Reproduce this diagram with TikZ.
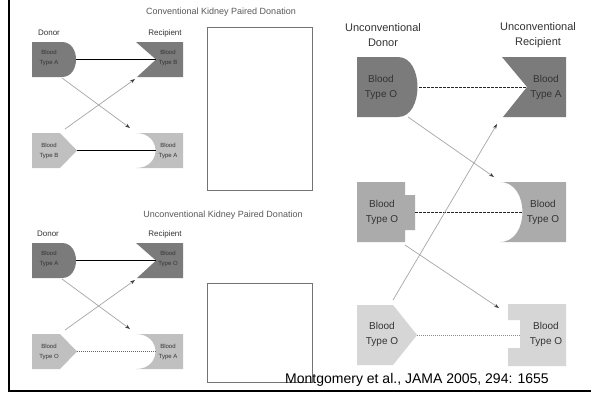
\documentclass[tikz,border=0pt]{standalone}
\usepackage{fontspec}
\setmainfont{Liberation Sans}
\usetikzlibrary{arrows.meta}
\definecolor{shdark}{HTML}{7B7B7B}
\definecolor{shlight}{HTML}{C0C0C0}
\definecolor{shmid}{HTML}{ABABAB}
\definecolor{shpale}{HTML}{D6D6D6}
\definecolor{txtdark}{HTML}{333333}
\definecolor{arrowgray}{HTML}{A6A6A6}
\begin{document}
\begin{tikzpicture}[x=1pt,y=-1pt,
 smalltxt/.style={font=\fontsize{6}{9.5}\selectfont, align=center, text=txtdark, inner sep=0pt},
 bigtxt/.style={font=\fontsize{10}{15}\selectfont, align=center, text=txtdark, inner sep=0pt},
 headtxt/.style={font=\fontsize{11}{15}\selectfont, align=center, text=txtdark, inner sep=0pt},
 roletxt/.style={font=\fontsize{8}{9}\selectfont, text=txtdark, inner sep=0pt},
 titletxt/.style={font=\fontsize{9}{10}\selectfont, text=black!65, inner sep=0pt},
 matchline/.style={black, line width=0.9pt},
 xarrow/.style={arrowgray, line width=0.7pt, -{Stealth[length=5pt,width=3.5pt,color=black!75]}},
 dashline/.style={black!85, line width=0.5pt, dash pattern=on 2.5pt off 1.5pt},
 dotline/.style={black!60, line width=0.8pt, dash pattern=on 1pt off 1pt},
 blankbox/.style={draw=black!55, line width=0.5pt}
]
\useasboundingbox (0,0) rectangle (591,394);
\fill[white] (0,0) rectangle (591,394);
% frame
\draw[line width=2.2pt] (9,0) -- (9,391) -- (591,391);

% ---------- conventional panel ----------
\node[titletxt] (t1) at (221,12) {Conventional Kidney Paired Donation};
\node[roletxt] (don1) at (49,33) {Donor};
\node[roletxt] (rec1) at (165,33) {Recipient};
\fill[shdark] (32,42) -- (62,42) .. controls (80.7,42) and (80.7,77) .. (62,77) -- (32,77) -- cycle;
\fill[shdark] (136,42) -- (183,42) -- (183,77) -- (137,77) -- (156,59.5) -- cycle;
\fill[shlight] (32,133) -- (60,133) -- (77,150.5) -- (60,168) -- (32,168) -- cycle;
\fill[shlight] (136,133) -- (183,133) -- (183,168) -- (136,168) .. controls (162,168) and (162,133) .. (136,133) -- cycle;
\node[smalltxt] (a1) at (49,58) {Blood\\Type A};
\node[smalltxt] (b1) at (168,58) {Blood\\Type B};
\node[smalltxt] (c1) at (49,151) {Blood\\Type B};
\node[smalltxt] (d1) at (168,151) {Blood\\Type A};
\coordinate (a1e) at (76,59.5);
\coordinate (b1w) at (156,59.5);
\coordinate (c1e) at (77,150.5);
\coordinate (d1w) at (155.5,150.5);
\coordinate (a1s) at (62,78);
\coordinate (d1n) at (130,128);
\coordinate (c1n) at (65,129);
\coordinate (b1s) at (135,79);
\draw[matchline] (a1e) -- (b1w);
\draw[matchline] (c1e) -- (d1w);
\draw[xarrow] (a1s) -- (d1n);
\draw[xarrow] (c1n) -- (b1s);
\draw[blankbox] (207,27) rectangle (312,190);

% ---------- unconventional panel (left) ----------
\begin{scope}[shift={(0,201)}]
\node[titletxt] (t2) at (223,14) {Unconventional Kidney Paired Donation};
\node[roletxt] (don2) at (48,33) {Donor};
\node[roletxt] (rec2) at (165,33) {Recipient};
\fill[shdark] (32,42) -- (62,42) .. controls (80.7,42) and (80.7,77) .. (62,77) -- (32,77) -- cycle;
\fill[shdark] (136,42) -- (183,42) -- (183,77) -- (137,77) -- (156,59.5) -- cycle;
\fill[shlight] (32,133) -- (60,133) -- (77,150.5) -- (60,168) -- (32,168) -- cycle;
\fill[shlight] (136,133) -- (183,133) -- (183,168) -- (136,168) .. controls (162,168) and (162,133) .. (136,133) -- cycle;
\node[smalltxt] (a2) at (49,58) {Blood\\Type A};
\node[smalltxt] (b2) at (168,58) {Blood\\Type O};
\node[smalltxt] (c2) at (49,151) {Blood\\Type O};
\node[smalltxt] (d2) at (168,151) {Blood\\Type A};
\coordinate (a2e) at (76,59.5);
\coordinate (b2w) at (156,59.5);
\coordinate (c2e) at (77,150.5);
\coordinate (d2w) at (155.5,150.5);
\coordinate (a2s) at (62,78);
\coordinate (d2n) at (130,128);
\coordinate (c2n) at (65,129);
\coordinate (b2s) at (135,79);
\draw[matchline] (a2e) -- (b2w);
\draw[dotline] (c2e) -- (d2w);
\draw[xarrow] (a2s) -- (d2n);
\draw[xarrow] (c2n) -- (b2s);
\draw[blankbox] (207,82) rectangle (312,181);
\end{scope}

% ---------- right panel ----------
\node[headtxt] (ud) at (383,35) {Unconventional\\Donor};
\node[headtxt] (ur) at (538,35) {Unconventional\\Recipient};
\fill[shdark] (357,57) -- (398,57) .. controls (424,57) and (424,117) .. (398,117) -- (357,117) -- cycle;
\fill[shdark] (502,57) -- (566,57) -- (566,117) -- (503,117) -- (527,87) -- cycle;
\fill[shmid] (357,182) -- (405,182) -- (405,195) -- (415,195) -- (415,230) -- (405,230) -- (405,242) -- (357,242) -- cycle;
\fill[shmid] (500,182) -- (566,182) -- (566,242) -- (500,242) .. controls (530,242) and (530,182) .. (500,182) -- cycle;
\fill[shpale] (357,305) -- (393,305) -- (417,335) -- (393,365) -- (357,365) -- cycle;
\fill[shpale] (508,304) -- (566,304) -- (566,366) -- (508,366) -- (508,348) -- (520,348) -- (520,320) -- (508,320) -- cycle;
\node[bigtxt] (o1) at (381,87) {Blood\\Type O};
\node[bigtxt] (r1) at (546,87) {Blood\\Type A};
\node[bigtxt] (o2) at (382,212) {Blood\\Type O};
\node[bigtxt] (r2) at (543,212) {Blood\\Type O};
\node[bigtxt] (o3) at (382,334) {Blood\\Type O};
\node[bigtxt] (r3) at (546,334) {Blood\\Type O};
\coordinate (o1e) at (419,87);
\coordinate (r1w) at (527,87);
\coordinate (o2e) at (415,212);
\coordinate (r2w) at (522.5,212);
\coordinate (o3e) at (417,335);
\coordinate (r3w) at (520,335);
\coordinate (o1s) at (408,117);
\coordinate (r2n) at (494,177);
\coordinate (o3n) at (393,300);
\coordinate (r1s) at (497,124);
\coordinate (o2s) at (405,245);
\coordinate (r3n) at (499,308);
\draw[dashline] (o1e) -- (r1w);
\draw[dashline] (o2e) -- (r2w);
\draw[dotline, black!45] (o3e) -- (r3w);
\draw[xarrow] (o1s) -- (r2n);
\draw[xarrow] (o3n) -- (r1s);
\draw[xarrow] (o2s) -- (r3n);

\node[font=\fontsize{14}{16}\selectfont, anchor=base, inner sep=0pt] (cite) at (417,383) {Montgomery et al., JAMA 2005, 294: 1655};
\end{tikzpicture}
\end{document}
